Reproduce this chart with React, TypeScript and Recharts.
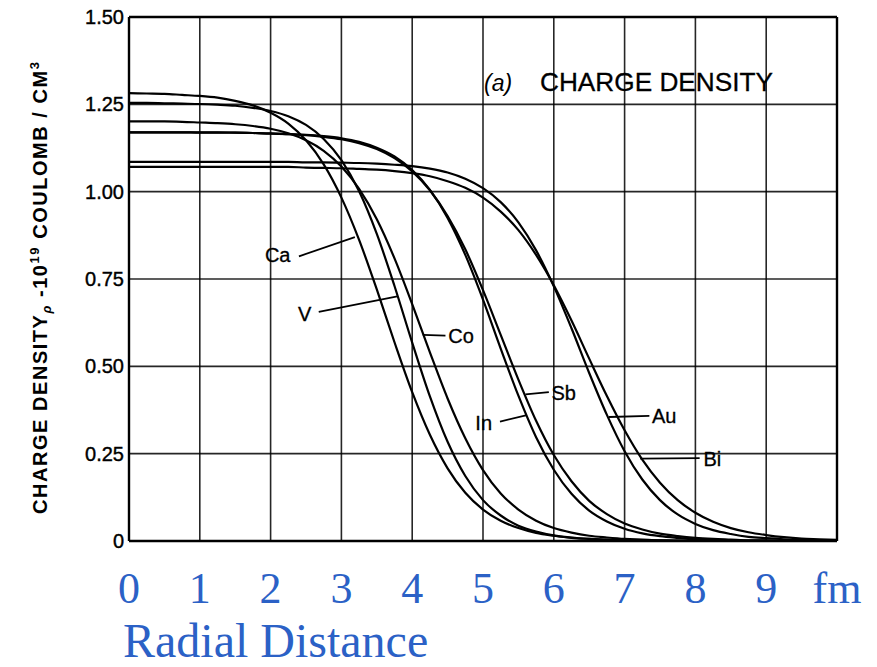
import React from 'react';
import { LineChart, Line, XAxis, YAxis, CartesianGrid, ReferenceLine, ReferenceDot } from 'recharts';

// radial distance in fm (0.25 fm steps)
const radius = [
  0, 0.25, 0.5, 0.75, 1, 1.25, 1.5, 1.75, 2, 2.25,
  2.5, 2.75, 3, 3.25, 3.5, 3.75, 4, 4.25, 4.5, 4.75,
  5, 5.25, 5.5, 5.75, 6, 6.25, 6.5, 6.75, 7, 7.25,
  7.5, 7.75, 8, 8.25, 8.5, 8.75, 9, 9.25, 9.5, 9.75, 10,
];

// charge density, 10^19 coulomb / cm^3
const caDensity = [
  1.282, 1.281, 1.280, 1.277, 1.274, 1.269, 1.260, 1.247, 1.226, 1.195,
  1.147, 1.078, 0.983, 0.862, 0.720, 0.569, 0.426, 0.304, 0.208, 0.138,
  0.090, 0.058, 0.037, 0.023, 0.015, 0.009, 0.006, 0.004, 0.002, 0.001,
  0.001, 0, 0, 0, 0, 0, 0, 0, 0, 0, 0,
];
const vDensity = [
  1.254, 1.254, 1.253, 1.252, 1.251, 1.249, 1.246, 1.240, 1.231, 1.216,
  1.191, 1.151, 1.090, 1.001, 0.879, 0.730, 0.568, 0.414, 0.284, 0.186,
  0.117, 0.073, 0.044, 0.027, 0.016, 0.010, 0.006, 0.003, 0.002, 0.001,
  0.001, 0, 0, 0, 0, 0, 0, 0, 0, 0, 0,
];
const coDensity = [
  1.201, 1.201, 1.201, 1.200, 1.198, 1.196, 1.193, 1.188, 1.180, 1.167,
  1.147, 1.117, 1.072, 1.008, 0.921, 0.809, 0.678, 0.540, 0.408, 0.294,
  0.203, 0.136, 0.090, 0.058, 0.037, 0.024, 0.015, 0.010, 0.006, 0.004,
  0.002, 0.002, 0.001, 0.001, 0, 0, 0, 0, 0, 0, 0,
];
const inDensity = [
  1.170, 1.170, 1.170, 1.170, 1.170, 1.170, 1.169, 1.168, 1.167, 1.165,
  1.163, 1.159, 1.153, 1.143, 1.126, 1.101, 1.062, 1.005, 0.925, 0.819,
  0.691, 0.551, 0.416, 0.297, 0.204, 0.135, 0.087, 0.056, 0.035, 0.022,
  0.014, 0.009, 0.005, 0.003, 0.002, 0.001, 0.001, 0, 0, 0, 0,
];
const sbDensity = [
  1.170, 1.170, 1.170, 1.170, 1.169, 1.169, 1.169, 1.168, 1.166, 1.165,
  1.162, 1.157, 1.150, 1.139, 1.122, 1.096, 1.058, 1.004, 0.930, 0.835,
  0.718, 0.590, 0.462, 0.344, 0.246, 0.171, 0.115, 0.077, 0.050, 0.033,
  0.021, 0.014, 0.009, 0.006, 0.004, 0.002, 0.002, 0.001, 0.001, 0, 0,
];
const auDensity = [
  1.085, 1.085, 1.085, 1.085, 1.085, 1.085, 1.085, 1.085, 1.085, 1.085,
  1.084, 1.084, 1.083, 1.082, 1.080, 1.077, 1.073, 1.066, 1.055, 1.037,
  1.010, 0.970, 0.912, 0.832, 0.729, 0.609, 0.481, 0.361, 0.257, 0.176,
  0.117, 0.076, 0.049, 0.031, 0.020, 0.012, 0.008, 0.005, 0.003, 0.002, 0.001,
];
const biDensity = [
  1.071, 1.071, 1.071, 1.071, 1.071, 1.071, 1.071, 1.071, 1.071, 1.071,
  1.069, 1.068, 1.067, 1.065, 1.063, 1.059, 1.053, 1.044, 1.030, 1.011,
  0.983, 0.943, 0.890, 0.819, 0.732, 0.631, 0.522, 0.415, 0.317, 0.233,
  0.167, 0.117, 0.081, 0.055, 0.037, 0.025, 0.017, 0.011, 0.007, 0.005, 0.003,
];

const xTicks = [0, 1, 2, 3, 4, 5, 6, 7, 8, 9, 10];
const yTicks = [0, 0.25, 0.5, 0.75, 1.0, 1.25, 1.5];

// curve labels and their leader lines (data coords)
const labelNames = ['Ca', 'V', 'Co', 'In', 'Sb', 'Au', 'Bi'];
const labelR = [2.1, 2.48, 4.69, 5.01, 6.14, 7.56, 8.24];
const labelRho = [0.819, 0.651, 0.588, 0.339, 0.424, 0.359, 0.236];
const leaderFrom = [[2.4, 0.815], [2.68, 0.656], [4.15, 0.59], [5.24, 0.342], [5.6, 0.42], [6.78, 0.355], [7.22, 0.236]];
const leaderTo = [[3.19, 0.87], [3.79, 0.7], [4.47, 0.588], [5.62, 0.36], [5.93, 0.426], [7.35, 0.358], [8.06, 0.237]];

const series = [
  { key: 'Ca', values: caDensity },
  { key: 'V', values: vDensity },
  { key: 'Co', values: coDensity },
  { key: 'In', values: inDensity },
  { key: 'Sb', values: sbDensity },
  { key: 'Au', values: auDensity },
  { key: 'Bi', values: biDensity },
];

const data = radius.map((r, i) => {
  const row: Record<string, number> = { r };
  series.forEach(s => { row[s.key] = s.values[i]; });
  return row;
});

const sans = 'Liberation Sans, Arial, sans-serif';
const serif = 'Liberation Serif, Times New Roman, serif';
const blue = '#2b61c6';

const App: React.FC = () => {
  return (
    <div style={{ position: 'absolute', left: 0, top: 0, width: 877, height: 667, background: '#fff' }}>
      <LineChart width={877} height={667} data={data} margin={{ top: 17, right: 40, left: 0, bottom: 0 }}>
        <CartesianGrid stroke="#000" strokeWidth={1.6} strokeOpacity={0.85} />
        <XAxis
          dataKey="r"
          type="number"
          domain={[0, 10]}
          ticks={xTicks}
          interval={0}
          height={126}
          axisLine={false}
          tickLine={false}
          tickSize={0}
          tickMargin={31}
          tickFormatter={(v: number) => (v === 10 ? 'fm' : String(v))}
          tick={{ fontSize: 44, fill: blue, fontFamily: serif }}
        />
        <YAxis
          type="number"
          domain={[0, 1.5]}
          ticks={yTicks}
          interval={0}
          width={129}
          axisLine={false}
          tickLine={false}
          tickSize={0}
          tickMargin={5}
          tickFormatter={(v: number) => (v === 0 ? '0' : v.toFixed(2))}
          tick={{ fontSize: 20, fill: '#000', stroke: '#000', strokeWidth: 0.4, fontFamily: sans }}
        />
        <ReferenceLine y={1.5} stroke="#000" strokeWidth={2.4} />
        <ReferenceLine y={0} stroke="#000" strokeWidth={2.4} />
        <ReferenceLine x={0} stroke="#000" strokeWidth={2.4} />
        <ReferenceLine x={10} stroke="#000" strokeWidth={2.4} />
        {series.map(s => (
          <Line
            key={s.key}
            dataKey={s.key}
            type="monotone"
            stroke="#000"
            strokeWidth={2.2}
            dot={false}
            isAnimationActive={false}
          />
        ))}
        {labelNames.map((name, i) => (
          <ReferenceLine
            key={'lead' + name}
            segment={[
              { x: leaderFrom[i][0], y: leaderFrom[i][1] },
              { x: leaderTo[i][0], y: leaderTo[i][1] },
            ]}
            stroke="#000"
            strokeWidth={1.8}
          />
        ))}
        {labelNames.map((name, i) => (
          <ReferenceDot
            key={'lab' + name}
            x={labelR[i]}
            y={labelRho[i]}
            r={1}
            fill="none"
            stroke="none"
            label={{ value: name, position: 'center', fill: '#000', stroke: '#000', strokeWidth: 0.3, fontSize: 20, fontFamily: sans }}
          />
        ))}
      </LineChart>
      <svg width={877} height={667} style={{ position: 'absolute', left: 0, top: 0, pointerEvents: 'none' }}>
        <text x={484} y={91} fontSize={23} fontStyle="italic" fontFamily={sans} fill="#000">(a)</text>
        <text x={540} y={91} fontSize={26} fontFamily={sans} fill="#000" stroke="#000" strokeWidth={0.3} textLength={233} lengthAdjust="spacingAndGlyphs">
          CHARGE DENSITY
        </text>
        <text
          transform="translate(47,288) rotate(-90)"
          textAnchor="middle"
          fontSize={20}
          fontWeight="bold"
          fontFamily={sans}
          fill="#000"
          textLength={452}
          lengthAdjust="spacing"
        >
          CHARGE  DENSITY
          <tspan fontSize={13} fontStyle="italic" dy={4}>ρ</tspan>
          <tspan dy={-4}> -10</tspan>
          <tspan fontSize={13} dy={-8}>19</tspan>
          <tspan dy={8}> COULOMB / CM</tspan>
          <tspan fontSize={13} dy={-8}>3</tspan>
        </text>
        <text x={123} y={657} fontSize={48} fontFamily={serif} fill={blue}>Radial Distance</text>
      </svg>
    </div>
  );
};

export default App;
